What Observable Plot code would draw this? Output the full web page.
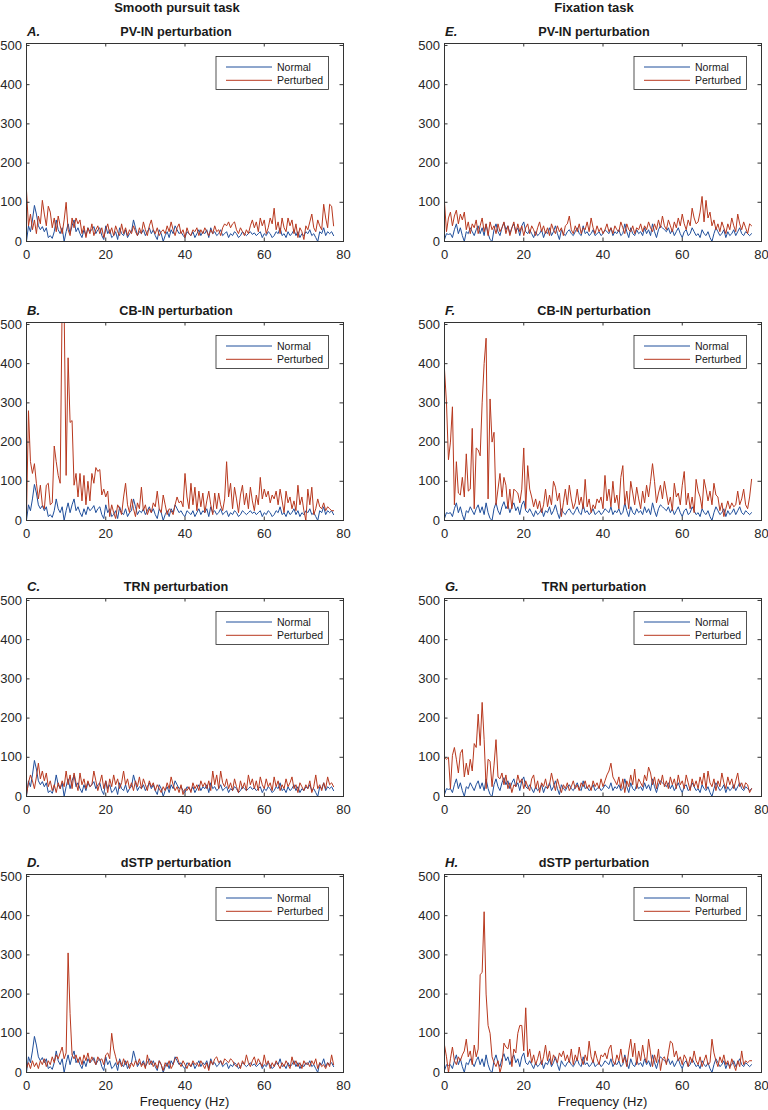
<!DOCTYPE html>
<html>
<head>
<meta charset="utf-8">
<script src="https://cdn.jsdelivr.net/npm/d3@7"></script>
<script src="https://cdn.jsdelivr.net/npm/@observablehq/plot@0.6"></script>
<style>
  body { margin: 0; background: #fff; }
  #root { position: relative; width: 768px; height: 1110px; overflow: hidden; background: #fff;
          font-family: "Liberation Sans", Arial, Helvetica, sans-serif; color: #262626; }
  .panel { position: absolute; }
  .panel svg { overflow: visible; display: block; }
  #overlay { position: absolute; left: 0; top: 0; pointer-events: none; }
</style>
</head>
<body>
<div id="root"></div>
<script>
// ---------- data ----------
const freqStep = 0.5; // Hz per spectral bin (bin i is at i * freqStep Hz)
const xTicks = [0, 20, 40, 60, 80];
const yTicks = [0, 100, 200, 300, 400, 500];
const seriesNames = ["Normal", "Perturbed"];
const columnHeaders = ["Smooth pursuit task", "Fixation task"];
const panelLetters = [["A.", "B.", "C.", "D."], ["E.", "F.", "G.", "H."]];
const panelTitles = ["PV-IN perturbation", "CB-IN perturbation", "TRN perturbation", "dSTP perturbation"];
const xLabel = "Frequency (Hz)";

// Normal spectra (same baseline within each task)
const normalPursuit = [
  0,40,25,55,92,70,40,30,38,25,
  35,10,15,8,25,55,30,20,35,0,
  25,45,20,40,55,25,35,20,10,30,
  15,35,25,30,38,20,30,35,15,5,
  40,20,30,10,15,25,5,35,20,15,
  30,10,20,25,55,35,15,25,20,30,
  15,25,35,20,30,15,5,30,20,0,
  15,25,10,30,20,40,30,20,25,15,
  10,25,20,15,25,10,20,30,15,25,
  20,30,10,35,20,25,15,20,30,15,
  20,25,10,20,15,25,20,10,15,25,
  20,15,20,25,18,22,15,20,25,10,
  20,15,25,20,10,15,25,20,35,15,
  20,10,25,15,20,30,15,25,10,20,
  15,25,20,30,15,20,10,0,25,20,
  35,15,25,20,25,15
];
const normalFixation = [
  5,20,18,20,10,30,45,20,35,15,
  0,25,20,35,25,15,30,40,20,35,
  15,45,20,5,0,30,45,25,15,35,
  48,30,40,20,35,45,25,35,15,40,
  50,25,20,30,20,10,25,15,20,30,
  10,25,20,35,15,25,40,20,5,30,
  20,15,25,30,20,15,25,35,20,15,
  40,20,25,15,20,30,15,20,25,15,
  20,30,25,20,35,15,25,20,30,15,
  20,45,25,10,35,20,15,30,20,25,
  15,35,20,30,15,45,25,10,30,40,
  35,30,25,35,20,30,15,25,35,20,
  10,25,30,15,20,35,25,15,20,10,
  30,20,15,25,10,0,20,35,25,15,
  20,30,10,25,15,20,30,15,25,35,
  20,15,25,20,15,20
];

// Perturbed spectra, smooth pursuit task
const pvPursuit = [
  130,40,70,30,55,20,65,45,105,70,
  40,90,75,35,60,25,65,40,20,55,
  100,30,15,60,35,60,45,55,20,40,
  10,35,20,45,15,30,40,20,35,10,
  30,45,20,35,15,40,25,15,45,20,
  35,15,30,20,40,25,15,35,20,50,
  30,15,40,55,30,20,35,15,25,30,
  20,40,25,50,30,15,35,45,20,30,
  10,35,20,15,30,25,35,15,30,20,
  35,25,15,30,20,40,25,30,15,35,
  45,40,50,35,45,50,30,20,35,25,
  15,30,20,40,55,35,50,25,60,40,
  55,20,35,60,45,85,30,50,20,60,
  35,25,60,40,55,20,45,10,35,25,
  5,40,30,50,70,35,25,55,40,30,
  95,60,35,95,90,40
];
const cbPursuit = [
  10,280,150,120,145,95,55,90,40,30,
  90,95,40,45,190,150,115,95,560,540,
  115,415,250,255,90,120,60,120,50,115,
  40,100,50,120,95,135,125,130,65,80,
  60,75,10,40,20,5,40,30,15,60,
  95,40,20,55,30,10,45,30,85,25,
  40,15,30,20,45,35,75,30,20,65,
  40,15,30,25,15,40,60,45,50,35,
  120,60,30,95,40,85,25,75,35,70,
  20,50,75,40,15,70,30,70,40,25,
  55,150,60,95,30,85,55,20,65,90,
  40,70,30,85,50,25,65,40,110,55,
  80,60,75,45,65,55,75,40,80,50,
  20,75,45,60,30,50,25,90,40,60,
  25,0,80,40,85,15,30,55,35,30,
  45,25,35,30,25,25
];
const trnPursuit = [
  5,35,55,40,20,50,85,45,65,40,
  60,25,40,15,30,10,35,20,40,25,
  65,30,55,20,60,35,15,60,30,45,
  20,40,25,30,65,40,15,35,55,20,
  40,10,45,25,55,30,45,20,35,65,
  30,45,20,35,15,40,25,50,20,45,
  30,15,40,25,35,15,30,20,10,25,
  15,35,20,50,30,15,25,10,30,5,
  20,15,25,10,35,20,30,15,40,25,
  35,20,40,15,65,30,55,20,65,35,
  25,45,20,35,15,45,25,10,40,20,
  35,15,55,30,45,20,40,15,50,30,
  20,45,25,35,15,50,25,40,15,30,
  20,45,25,35,50,20,30,10,35,25,
  15,30,20,40,10,25,55,20,30,15,
  35,20,50,30,35,25
];
const dstpPursuit = [
  10,25,10,30,15,25,10,30,20,35,
  15,30,20,40,25,45,35,50,65,35,
  50,305,150,45,35,45,25,40,20,45,
  30,50,25,40,30,20,40,30,35,20,
  45,50,35,100,60,40,20,30,15,35,
  20,30,10,25,15,30,20,35,15,25,
  10,45,20,30,15,25,10,30,20,5,
  25,15,30,10,20,35,40,25,15,30,
  20,10,25,15,30,20,25,15,30,20,
  10,25,5,30,20,35,40,25,30,20,
  35,30,25,35,30,20,15,25,10,30,
  20,45,25,15,30,40,20,35,25,15,
  45,20,30,10,25,15,30,20,10,25,
  15,30,20,10,40,20,30,15,25,10,
  30,20,25,15,30,20,35,10,25,15,
  20,10,25,15,45,20
];

// Perturbed spectra, fixation task
const pvFixation = [
  100,25,60,75,40,65,80,45,70,55,
  75,30,50,20,45,35,55,20,40,60,
  25,45,15,50,30,40,20,45,25,35,
  50,20,40,15,35,50,20,45,25,40,
  15,35,45,20,40,30,15,35,50,25,
  40,20,35,15,45,30,20,40,25,35,
  15,40,45,65,30,20,40,25,45,20,
  35,30,50,25,60,35,20,40,25,35,
  20,30,45,25,35,20,40,30,25,50,
  35,20,45,30,25,40,20,35,30,45,
  25,40,30,50,35,25,45,30,55,35,
  65,40,30,55,40,25,50,35,60,40,
  70,45,30,55,40,85,60,45,50,75,
  115,50,105,60,75,40,55,30,45,25,
  50,35,20,45,30,60,40,25,70,45,
  30,50,35,20,45,40
];
const cbFixation = [
  385,300,155,200,290,40,150,70,65,110,
  60,170,75,80,235,30,185,180,165,300,
  400,465,55,310,200,225,40,80,120,60,
  110,90,30,80,30,80,75,70,45,80,
  185,30,140,80,60,35,55,30,50,20,
  40,80,35,65,40,100,85,50,70,10,
  45,80,40,90,55,30,45,80,40,60,
  30,105,35,55,20,40,30,55,45,60,
  30,115,50,80,35,100,45,65,30,110,
  140,40,75,30,100,70,40,85,55,30,
  75,45,90,60,100,145,100,45,70,90,
  55,100,70,40,60,25,95,60,70,40,
  90,125,40,70,30,60,20,105,75,60,
  30,105,80,50,75,40,95,65,60,25,
  45,10,30,50,30,45,35,40,75,40,
  55,80,40,30,60,105
];
const trnFixation = [
  100,95,100,20,105,125,95,60,110,120,
  50,85,55,95,65,135,125,210,130,240,
  145,20,95,90,25,80,145,50,45,60,
  30,55,20,35,10,30,25,55,35,45,
  20,40,25,15,45,55,20,40,10,35,
  25,45,20,30,60,35,15,45,25,10,
  30,20,35,15,25,40,20,30,15,35,
  25,40,20,30,15,40,25,35,20,45,
  25,40,55,65,85,50,40,30,50,20,
  45,10,40,25,55,30,70,20,45,35,
  25,55,40,75,60,30,50,20,45,30,
  55,25,40,20,50,30,45,20,55,30,
  40,20,55,35,15,45,25,40,20,50,
  30,60,20,65,35,25,45,15,40,25,
  60,35,20,50,30,45,20,40,60,25,
  35,20,35,30,10,20
];
const dstpFixation = [
  70,40,0,35,65,30,20,40,30,45,
  55,85,40,55,20,70,40,60,250,255,
  410,200,120,100,40,25,15,30,0,20,
  75,65,60,85,15,60,50,100,120,120,
  55,165,40,60,25,45,20,35,55,20,
  40,70,30,55,20,45,35,25,50,40,
  55,30,45,25,60,20,45,30,65,35,
  20,45,30,80,40,25,55,35,20,45,
  40,50,35,60,70,30,20,45,30,60,
  25,40,15,55,85,40,75,20,55,30,
  70,40,25,85,50,15,45,25,60,5,
  35,40,20,50,80,75,40,55,30,40,
  20,45,35,15,40,25,55,30,20,40,
  15,30,45,20,25,85,50,30,15,40,
  25,45,20,30,10,35,20,5,30,15,
  55,20,30,25,30,30
];

const perturbedByColumn = [
  [pvPursuit, cbPursuit, trnPursuit, dstpPursuit],
  [pvFixation, cbFixation, trnFixation, dstpFixation]
];
const normalByColumn = [normalPursuit, normalFixation];

// ---------- styling / layout ----------
const colors = { Normal: "#1f4e9b", Perturbed: "#b8381e" };
const fontFamily = '"Liberation Sans", Arial, Helvetica, sans-serif';
const frameW = 317, frameH = 198, tickLen = 3.5;
const frameTops = [43, 322, 598, 874];
const colLeft = [0, 384];          // svg left
const colMargins = [[26, 41], [60, 7]]; // [marginLeft, marginRight]
const mTop = 5, mBottom = 30;

const root = document.getElementById("root");

function toRows(arr, name) {
  return arr.map((v, i) => ({ freq: i * freqStep, power: v, series: name }));
}

for (let c = 0; c < 2; c++) {
  const [mL, mR] = colMargins[c];
  for (let r = 0; r < 4; r++) {
    const normal = toRows(normalByColumn[c], "Normal");
    const pert = toRows(perturbedByColumn[c][r], "Perturbed");
    const plot = Plot.plot({
      width: mL + frameW + mR,
      height: mTop + frameH + mBottom,
      marginLeft: mL, marginRight: mR, marginTop: mTop, marginBottom: mBottom,
      style: { fontFamily, fontSize: "13px", color: "#262626", background: "transparent", overflow: "visible" },
      x: { domain: [0, 80], ticks: xTicks, tickSize: 0, tickPadding: 8, label: null },
      y: { domain: [0, 505], ticks: yTicks, tickSize: 0, tickPadding: 4.5, label: null },
      marks: [
        Plot.lineY(normal, { x: "freq", y: "power", stroke: colors.Normal, strokeWidth: 1, clip: true }),
        Plot.lineY(pert, { x: "freq", y: "power", stroke: colors.Perturbed, strokeWidth: 1, clip: true }),
        Plot.tickY(yTicks, { y: d => d, insetRight: frameW - tickLen, stroke: "#333" }),
        Plot.tickY(yTicks, { y: d => d, insetLeft: frameW - tickLen, stroke: "#333" }),
        Plot.tickX(xTicks, { x: d => d, insetTop: frameH - tickLen, stroke: "#333" }),
        Plot.tickX(xTicks, { x: d => d, insetBottom: frameH - tickLen, stroke: "#333" }),
        Plot.frame({ stroke: "#333", strokeWidth: 1 })
      ]
    });
    const div = document.createElement("div");
    div.className = "panel";
    div.style.left = colLeft[c] + "px";
    div.style.top = (frameTops[r] - mTop) + "px";
    div.appendChild(plot);
    root.appendChild(div);
  }
}

// ---------- text overlay: headers, titles, legends, x label ----------
const svgNS = "http://www.w3.org/2000/svg";
const ov = document.createElementNS(svgNS, "svg");
ov.setAttribute("id", "overlay");
ov.setAttribute("width", 768);
ov.setAttribute("height", 1110);
ov.style.fontFamily = fontFamily;
root.appendChild(ov);

function txt(x, y, s, opts = {}) {
  const t = document.createElementNS(svgNS, "text");
  t.setAttribute("x", x);
  t.setAttribute("y", y);
  t.setAttribute("fill", "#1a1a1a");
  t.setAttribute("font-size", opts.size || 13);
  if (opts.weight) t.setAttribute("font-weight", opts.weight);
  if (opts.italic) t.setAttribute("font-style", "italic");
  t.setAttribute("text-anchor", opts.anchor || "start");
  t.textContent = s;
  ov.appendChild(t);
  return t;
}
function el(name, attrs) {
  const e = document.createElementNS(svgNS, name);
  for (const k in attrs) e.setAttribute(k, attrs[k]);
  ov.appendChild(e);
  return e;
}

const headerCenters = [177, 594];
for (let c = 0; c < 2; c++) {
  const fl = colLeft[c] + colMargins[c][0];
  txt(headerCenters[c], 11.5, columnHeaders[c], { weight: "bold", anchor: "middle", size: 13 });
  for (let r = 0; r < 4; r++) {
    const ft = frameTops[r];
    txt(fl + 150, ft - 7.5, panelTitles[r], { weight: "bold", anchor: "middle", size: 12.7 });
    txt(fl + 1, ft - 7.5, panelLetters[c][r], { weight: "bold", italic: true, size: 13 });
    // legend
    const lx = fl + 190, ly = ft + 13.5;
    el("rect", { x: lx, y: ly, width: 112.5, height: 33, fill: "#fff", stroke: "#262626", "stroke-width": 0.8 });
    seriesNames.forEach((name, k) => {
      const yy = ft + 24 + k * 13.3;
      el("line", { x1: lx + 10, x2: lx + 56, y1: yy, y2: yy, stroke: colors[name], "stroke-width": 1 });
      txt(lx + 61, yy + 3.7, name, { size: 10.5 });
    });
  }
  txt(fl + frameW / 2, frameTops[3] + frameH + 34, xLabel, { anchor: "middle", size: 13 });
}
</script>
</body>
</html>
